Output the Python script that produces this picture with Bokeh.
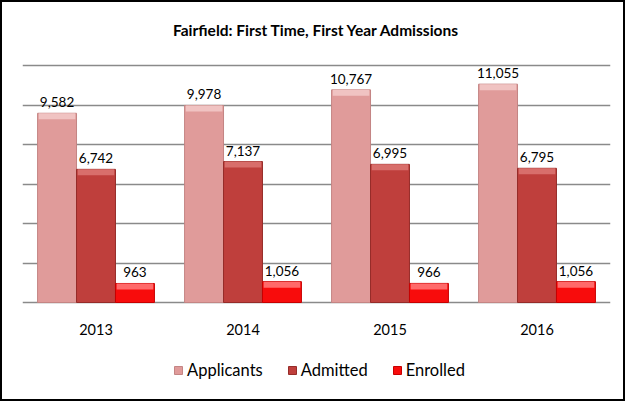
from bokeh.plotting import figure
from bokeh.models import ColumnDataSource, FactorRange, FixedTicker, Range1d, Legend, LegendItem
from bokeh.transform import dodge
from bokeh.core.properties import value
from bokeh.embed import file_html
from bokeh.resources import INLINE

# ---- data ----
years = ["2013", "2014", "2015", "2016"]
applicants = [9582, 9978, 10767, 11055]
admitted = [6742, 7137, 6995, 6795]
enrolled = [963, 1056, 966, 1056]
series_names = ["Applicants", "Admitted", "Enrolled"]
y_ticks = [0, 2000, 4000, 6000, 8000, 10000, 12000]
title_text = "Fairfield: First Time, First Year Admissions"

# ---- styles / geometry ----
FONT = "Lato"
GRID_MAX = 12000
GRID_PX = 237          # pixel height of the 0..12000 grid area
EXTRA_TOP_PX = 10      # frame space above the top gridline
EXTRA_BOTTOM_PX = 97   # frame space below the zero line (category labels + legend)
FRAME_W = 588
FRAME_H = GRID_PX + EXTRA_TOP_PX + EXTRA_BOTTOM_PX
Y_TOP = GRID_MAX * (GRID_PX + EXTRA_TOP_PX) / GRID_PX
Y_BOTTOM = -GRID_MAX * EXTRA_BOTTOM_PX / GRID_PX

main_colors = ["#E09B9A", "#BF3F3C", "#F80C0C"]
hl_colors = ["#F0C3C2", "#D86E6B", "#FF6A6A"]
edge_colors = ["#C48584", "#962C29", "#C80000"]
offsets = [-0.265, 0.0, 0.265]
BAR_W = 0.265
HL_PX = 6

p = figure(
    x_range=FactorRange(*years),
    y_range=Range1d(Y_BOTTOM, Y_TOP),
    frame_width=FRAME_W, frame_height=FRAME_H,
    min_border_left=20, min_border_right=13,
    min_border_top=53, min_border_bottom=0,
    output_backend="svg", toolbar_location=None,
    title=title_text,
)
p.styles = {"border": "2px solid #000000"}

p.title.align = "center"
p.title.text_font = FONT
p.title.text_font_size = "15.5px"
p.title.text_font_style = "bold"
p.title.text_color = "#000000"
p.title.standoff = 33

p.outline_line_color = None
p.background_fill_color = "white"
p.border_fill_color = "white"

p.yaxis.visible = False
p.xaxis.visible = False
p.ygrid.ticker = FixedTicker(ticks=y_ticks)
p.ygrid.grid_line_color = "#8A8A8A"
p.ygrid.grid_line_width = 1.3
p.xgrid.grid_line_color = None

# category labels under each group, placed through the categorical scale
cat_src = ColumnDataSource(dict(year=years, base=[0] * len(years)))
p.text(x="year", y="base", text="year", source=cat_src,
       text_align="center", text_baseline="middle", y_offset=27,
       text_font=value(FONT), text_font_size="14.5px", text_color="#000000")

hl_h = HL_PX * GRID_MAX / GRID_PX
data_series = [applicants, admitted, enrolled]
items = []
for name, vals, off, mc, hc, ec in zip(series_names, data_series, offsets, main_colors, hl_colors, edge_colors):
    src = ColumnDataSource(dict(
        year=years,
        val=vals,
        hl_bottom=[v - hl_h for v in vals],
        label=[f"{v:,}" for v in vals],
    ))
    xd = dodge("year", off, range=p.x_range)
    r = p.vbar(x=xd, top="val", bottom=0, width=BAR_W, source=src,
               fill_color=mc, line_color=ec, line_width=1)
    p.vbar(x=xd, top="val", bottom="hl_bottom", width=BAR_W * 0.94, source=src,
           fill_color=hc, line_color=None)
    p.text(x=xd, y="val", text="label", source=src,
           text_align="center", text_baseline="middle", y_offset=-11,
           text_font=value(FONT), text_font_size="13.5px", text_color="#000000")
    items.append(LegendItem(label=name, renderers=[r]))

legend = Legend(items=items, orientation="horizontal", location=(151, 19),
                glyph_width=10, glyph_height=10, spacing=24,
                label_text_font=FONT, label_text_font_size="16.5px", label_text_color="#000000",
                border_line_color=None, background_fill_alpha=0,
                margin=0, padding=0, label_standoff=4)
p.add_layout(legend)

open("out.html", "w").write(file_html(p, INLINE))
